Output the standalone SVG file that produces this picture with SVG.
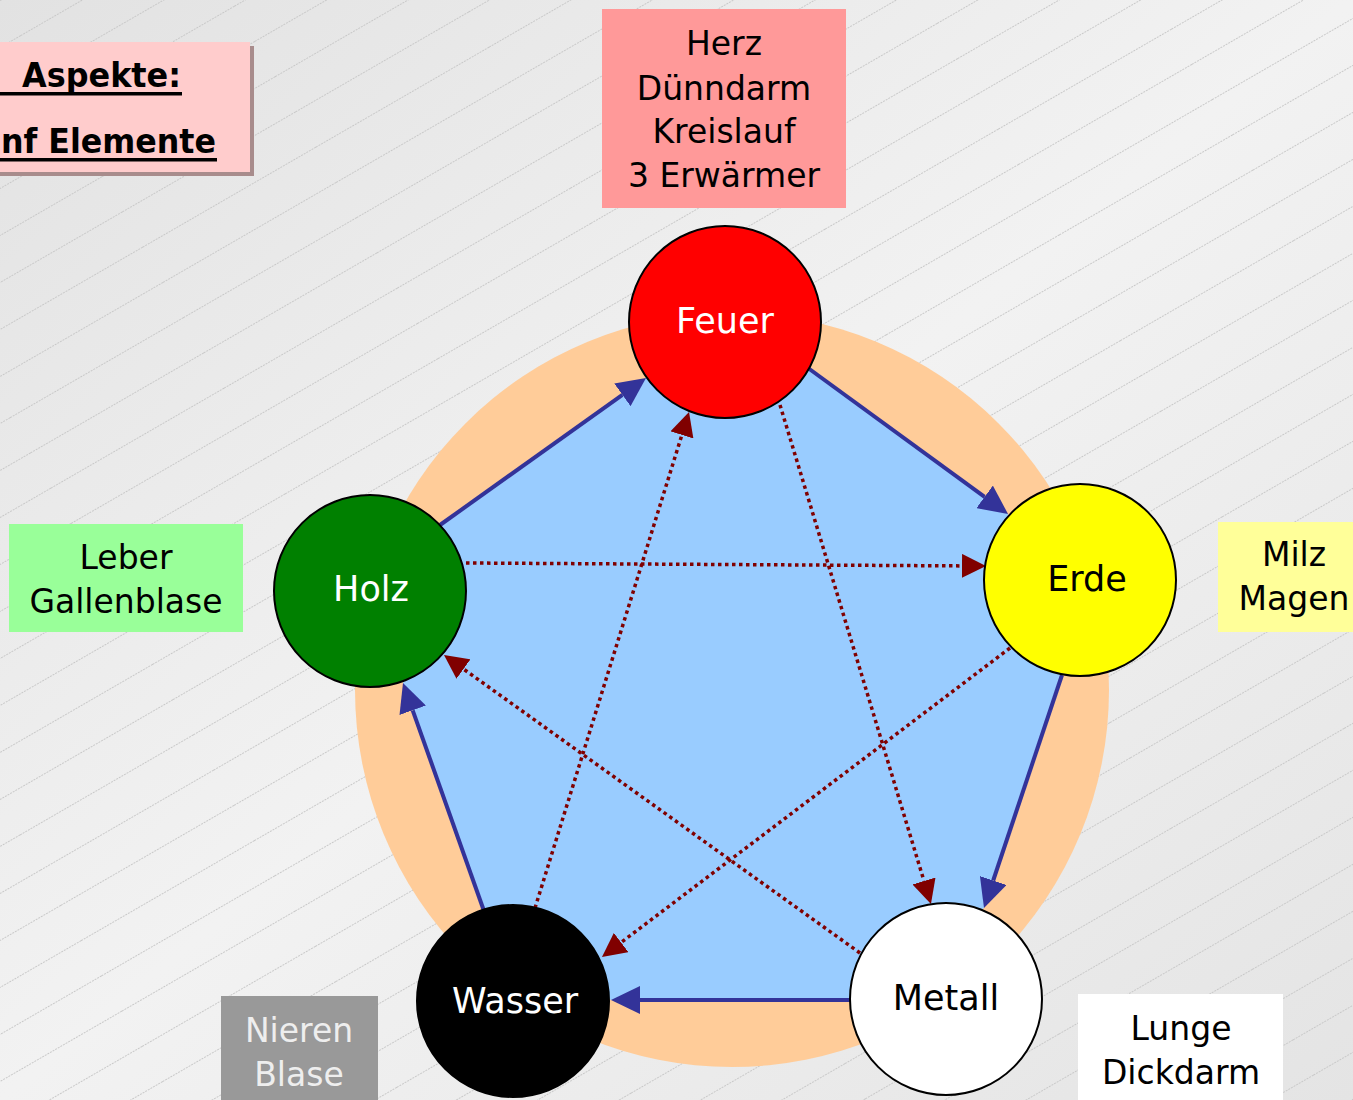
<svg xmlns="http://www.w3.org/2000/svg" width="1353" height="1100" viewBox="0 0 1353 1100">
<defs>
<linearGradient id="bg" x1="0" y1="0" x2="1" y2="1">
<stop offset="0" stop-color="#e2e2e2"/>
<stop offset="0.5" stop-color="#f2f2f2"/>
<stop offset="1" stop-color="#e4e4e4"/>
</linearGradient>
<pattern id="stripes" patternUnits="userSpaceOnUse" width="200" height="40.7" patternTransform="rotate(-30)">
<line x1="0" y1="0.5" x2="200" y2="0.5" stroke="#c9c9c9" stroke-width="1" stroke-dasharray="2 1"/>
</pattern>
<marker id="blueHead" markerUnits="userSpaceOnUse" markerWidth="30" markerHeight="28" refX="0" refY="14" orient="auto">
<path d="M0,0 L29,14 L0,28 z" fill="#333399"/>
</marker>
<marker id="redHead" markerUnits="userSpaceOnUse" markerWidth="25" markerHeight="24" refX="0" refY="12" orient="auto">
<path d="M0,0 L24,12 L0,24 z" fill="#800000"/>
</marker>
<style>
.t{font-family:"DejaVu Sans","Liberation Sans",sans-serif;font-size:33px;text-anchor:middle;fill:#000}
.c{font-family:"DejaVu Sans","Liberation Sans",sans-serif;font-size:35px;text-anchor:middle}
.ttl{font-family:"DejaVu Sans","Liberation Sans",sans-serif;font-size:33px;font-weight:bold;fill:#000}
.node{stroke:#000;stroke-width:2}
.blue{stroke:#333399;stroke-width:4;fill:none;marker-end:url(#blueHead)}
.red{stroke:#800000;stroke-width:3.5;stroke-dasharray:3.5 3.5;fill:none;marker-end:url(#redHead)}
</style>
</defs>
<rect x="0" y="0" width="1353" height="1100" fill="url(#bg)"/>
<rect x="0" y="0" width="1353" height="1100" fill="url(#stripes)"/>

<g id="title">
<rect x="-10" y="46" width="264" height="130" fill="#a88c8c"/>
<rect x="-10" y="42" width="260" height="130" fill="#ffcccc"/>
<text class="ttl" x="22" y="87" textLength="159" lengthAdjust="spacingAndGlyphs">Aspekte:</text>
<rect x="0" y="92" width="182" height="3.5" fill="#000"/>
<text class="ttl" x="1" y="153" textLength="215" lengthAdjust="spacingAndGlyphs">nf Elemente</text>
<rect x="0" y="158" width="217" height="3.5" fill="#000"/>
</g>

<circle id="ring" cx="732" cy="690" r="377" fill="#ffcc99"/>
<polygon id="pentagon" points="440,525 646,378 808,368 1008,514 1062,675 984,908 850,1000 611,1000 484,911 403,683" fill="#99ccff"/>

<g id="connectors">
<line class="blue" x1="440" y1="525" x2="622.4" y2="394.8"/>
<line class="blue" x1="808" y1="368" x2="984.6" y2="496.9"/>
<line class="blue" x1="1062" y1="675" x2="993.2" y2="880.5"/>
<line class="blue" x1="850" y1="1000" x2="640" y2="1000"/>
<line class="blue" x1="484" y1="911" x2="412.7" y2="710.3"/>
<line class="red" x1="466" y1="563" x2="962" y2="565.9"/>
<line class="red" x1="780" y1="405" x2="924" y2="881"/>
<line class="red" x1="1010" y1="648" x2="621.1" y2="942.5"/>
<line class="red" x1="860" y1="953" x2="463.5" y2="669"/>
<line class="red" x1="535" y1="908" x2="681.9" y2="434.9"/>
</g>

<g id="feuer">
<circle class="node" cx="725" cy="322" r="96" fill="#ff0000"/>
<text class="c" x="725" y="333" fill="#fff">Feuer</text>
</g>
<g id="erde">
<circle class="node" cx="1080" cy="580" r="96" fill="#ffff00"/>
<text class="c" x="1087" y="591" fill="#000">Erde</text>
</g>
<g id="metall">
<circle class="node" cx="946" cy="999" r="96" fill="#ffffff"/>
<text class="c" x="946" y="1010" fill="#000">Metall</text>
</g>
<g id="wasser">
<circle class="node" cx="513" cy="1001" r="96" fill="#000000"/>
<text class="c" x="515" y="1013" fill="#fff">Wasser</text>
</g>
<g id="holz">
<circle class="node" cx="370" cy="591" r="96" fill="#008000"/>
<text class="c" x="371" y="601" fill="#fff">Holz</text>
</g>

<g id="herz-box">
<rect x="602" y="9" width="244" height="199" fill="#ff9999"/>
<text class="t" x="724" y="55">Herz</text>
<text class="t" x="724" y="100">Dünndarm</text>
<text class="t" x="724" y="143">Kreislauf</text>
<text class="t" x="724" y="187">3 Erwärmer</text>
</g>
<g id="leber-box">
<rect x="9" y="524" width="234" height="108" fill="#99ff99"/>
<text class="t" x="126" y="569">Leber</text>
<text class="t" x="126" y="613">Gallenblase</text>
</g>
<g id="milz-box">
<rect x="1218" y="522" width="140" height="110" fill="#ffff99"/>
<text class="t" x="1294" y="566">Milz</text>
<text class="t" x="1294" y="610">Magen</text>
</g>
<g id="nieren-box">
<rect x="221" y="996" width="157" height="110" fill="#999999"/>
<text class="t" x="299" y="1042" style="fill:#eeeeee">Nieren</text>
<text class="t" x="299" y="1086" style="fill:#eeeeee">Blase</text>
</g>
<g id="lunge-box">
<rect x="1078" y="994" width="205" height="110" fill="#ffffff"/>
<text class="t" x="1181" y="1040">Lunge</text>
<text class="t" x="1181" y="1084">Dickdarm</text>
</g>
</svg>
